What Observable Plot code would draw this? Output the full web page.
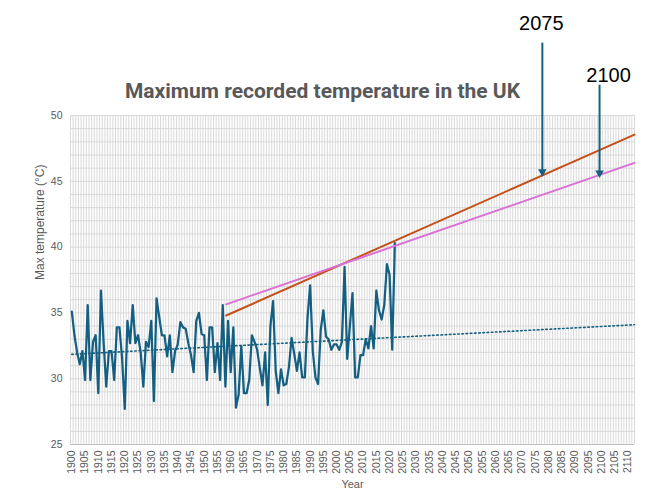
<!DOCTYPE html>
<html><head><meta charset="utf-8">
<script src="https://cdn.jsdelivr.net/npm/d3@7"></script>
<script src="https://cdn.jsdelivr.net/npm/@observablehq/plot@0.6"></script>
<style>body{margin:0;background:#fff;}</style>
</head><body><div id="chart"></div>
<script>
// ---- data ----
const years = d3.range(1900, 2023);
const maxTemp = [
 35.1,33.3,32.0,31.1,32.1,29.9,35.6,29.9,32.8,33.3,
 28.9,36.7,32.8,29.4,32.1,32.1,29.9,33.9,33.9,31.5,
 27.7,34.4,32.7,35.6,32.7,33.3,32.0,29.4,32.8,32.4,
 34.4,28.3,36.1,34.7,33.3,33.3,31.7,33.3,30.5,32.1,
 32.6,34.3,33.9,33.8,32.7,31.8,30.5,34.4,35.0,33.4,
 33.3,29.9,33.9,33.9,30.5,32.7,29.9,35.6,29.4,34.4,
 30.5,33.9,27.8,28.8,32.5,28.9,28.9,29.9,33.3,32.8,
 32.2,30.8,29.5,32.0,28.0,34.0,35.9,30.6,28.9,30.7,
 29.5,29.6,30.9,33.1,31.9,30.6,32.0,30.1,30.1,34.6,
 37.1,32.1,30.1,29.6,33.7,35.2,33.2,33.0,32.2,32.6,
 32.6,32.2,32.8,38.5,31.5,34.0,36.5,30.1,30.1,31.8,
 31.8,33.0,32.3,34.0,32.3,36.7,35.2,34.5,35.6,38.7,
 37.9,32.2,40.3
];
const series = years.map((year, i) => ({year, temp: maxTemp[i]}));

const dottedTrendYears = [1900, 2112.5];
const dottedTrendValues = [31.85, 34.1];
const projYears = [1958.3, 2112.5];
const orangeTrendValues = [34.8, 48.55];
const pinkTrendValues = [35.65, 46.4];

const axisYears = d3.range(1900, 2111, 5);
const gridYears = d3.range(1900, 2114);
const yTicks = [25, 30, 35, 40, 45, 50];
const yGrid = d3.range(25, 51);

const annotationLabels = ["2075", "2100"];
const labelYears = [2077.3, 2102.7];
const labelTemps = [57.0, 53.0];
const arrowYears = [2077.7, 2099.3];
const arrowTopTemps = [55.5, 52.3];
const arrowTipTemps = [45.8, 45.7];

const titleText = "Maximum recorded temperature in the UK";
const yLabel = "Max temperature (°C)";
const xLabel = "Year";

const line2 = (xs, ys) => xs.map((x, i) => ({x, y: ys[i]}));
const annotations = annotationLabels.map((label, i) => ({
  label, lx: labelYears[i], ly: labelTemps[i],
  ax: arrowYears[i], ay1: arrowTopTemps[i], ay2: arrowTipTemps[i]
}));

const blue = "#156082";
const gray = "#595959";

const chart = Plot.plot({
  width: 657, height: 493,
  marginLeft: 70, marginRight: 23, marginTop: 115, marginBottom: 49,
  style: {fontFamily: "Liberation Sans, Arial, sans-serif", fontSize: "10.5px", color: gray, background: "#fff"},
  x: {type: "linear", domain: [1899.5, 2112.5], axis: null},
  y: {domain: [25, 50], axis: null},
  marks: [
    Plot.ruleX(gridYears, {x: d => d - 0.5, stroke: "#d9d9d9", strokeWidth: 1}),
    Plot.ruleY(yGrid, {stroke: "#d9d9d9", strokeWidth: 1}),
    Plot.ruleY([25], {stroke: "#bfbfbf", strokeWidth: 1}),
    Plot.axisY({ticks: yTicks, tickSize: 0, tickPadding: 8, label: null, fill: gray}),
    Plot.axisX({ticks: axisYears, tickFormat: d => String(d), tickRotate: -90, tickSize: 0, tickPadding: 6, label: null, fill: gray}),
    Plot.line(line2(dottedTrendYears, dottedTrendValues), {x: "x", y: "y", stroke: blue, strokeWidth: 1.6, strokeDasharray: "1.6,2.6"}),
    Plot.line(series, {x: "year", y: "temp", stroke: blue, strokeWidth: 2.25, strokeLinejoin: "round"}),
    Plot.line(line2(projYears, orangeTrendValues), {x: "x", y: "y", stroke: "#C4501A", strokeWidth: 2}),
    Plot.line(line2(projYears, pinkTrendValues), {x: "x", y: "y", stroke: "#DA70D6", strokeWidth: 2}),
    Plot.ruleX(annotations, {x: "ax", y1: "ay1", y2: "ay2", stroke: blue, strokeWidth: 2}),
    Plot.dot(annotations, {x: "ax", y: "ay2", symbol: "triangle", rotate: 180, r: 3.2, fill: blue, stroke: "none", dy: 1}),
    Plot.text(annotations, {x: "lx", y: "ly", text: "label", fontSize: 20, fill: "#000", fontFamily: "Liberation Sans, Arial, sans-serif"}),
    Plot.text([titleText], {frameAnchor: "top", lineAnchor: "middle", dy: -24, dx: -30, fontSize: 21, fontWeight: "bold", fill: gray, fontFamily: "Roboto, sans-serif"}),
    Plot.text([yLabel], {frameAnchor: "left", lineAnchor: "middle", dx: -30, rotate: -90, fontSize: 12, fill: gray}),
    Plot.text([xLabel], {frameAnchor: "bottom", lineAnchor: "middle", dy: 40, fontSize: 11, fill: gray})
  ]
});
document.getElementById("chart").appendChild(chart);
</script>
</body></html>
